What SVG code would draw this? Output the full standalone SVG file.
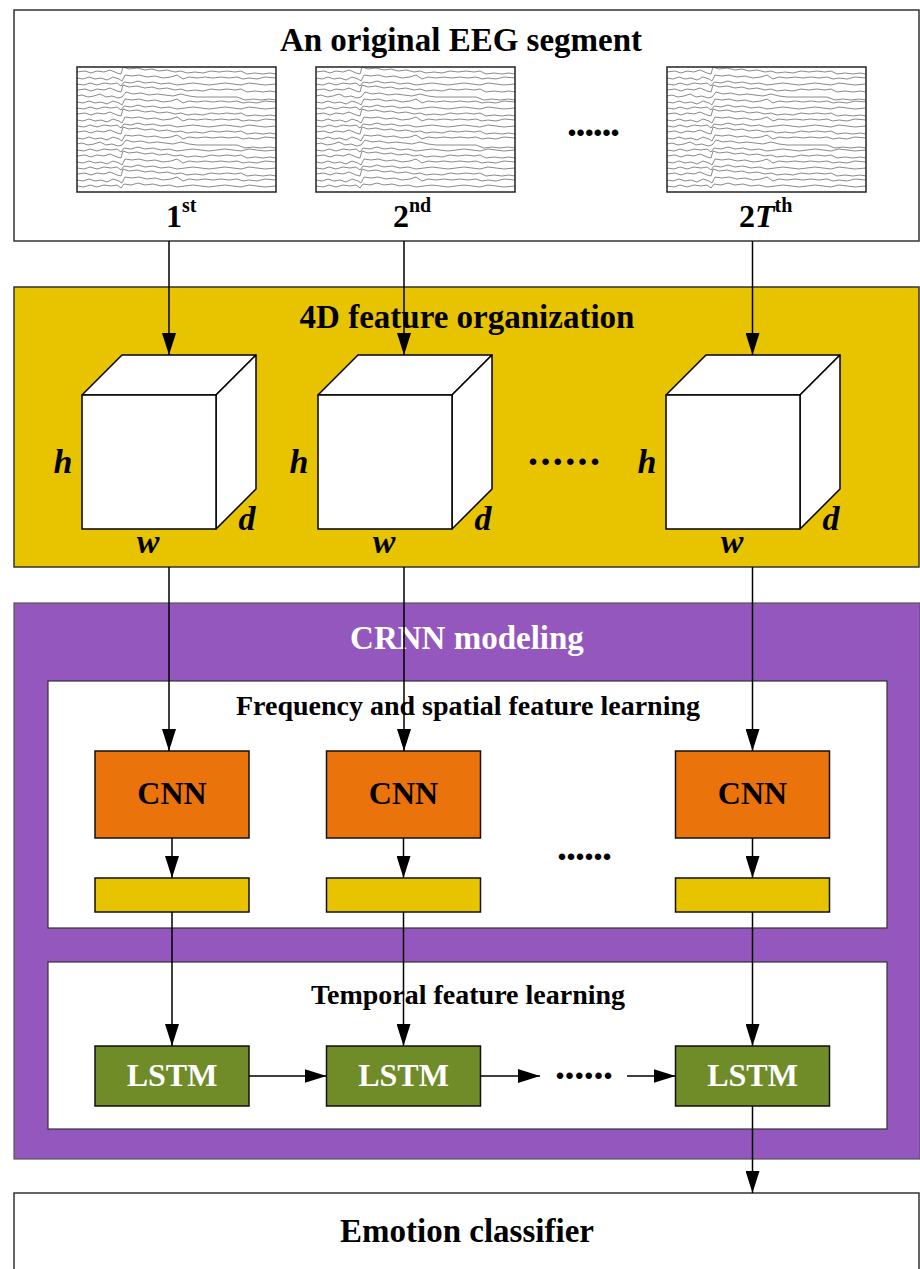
<svg xmlns="http://www.w3.org/2000/svg" xmlns:xlink="http://www.w3.org/1999/xlink" width="920" height="1269" viewBox="0 0 920 1269">
<style>
text{font-family:"Liberation Serif","Times New Roman",serif;font-weight:bold;}
.title{font-size:33px;text-anchor:middle;fill:#000;}
.sub{font-size:28px;text-anchor:middle;fill:#000;}
.frame{stroke:#333;stroke-width:1.5;}
.box{stroke:#111;stroke-width:1.5;}
.yellow{fill:#E8C300;}
.purple{fill:#9457BD;}
.orange{fill:#EB730C;}
.green{fill:#6F8C29;}
.white{fill:#fff;}
.lbl{font-size:32px;text-anchor:middle;}
.var{font-size:34px;font-style:italic;text-anchor:middle;}
.dots{font-size:40px;}
.trace{fill:none;stroke:#8a8a8a;stroke-width:1;}
.conn{stroke:#000;stroke-width:1.5;fill:none;marker-end:url(#arr);}
.cube{fill:#fff;stroke:#000;stroke-width:1.5;stroke-linejoin:round;}
</style>
<defs>
<marker id="arr" markerUnits="userSpaceOnUse" markerWidth="22" markerHeight="14" refX="22" refY="7" orient="auto">
<path d="M0,0 L22,7 L0,14 z" fill="#000"/>
</marker>
<path id="tA" class="trace" d="M0 0 L8 -1 L14 1 L20 -1 L27 0 L33 -2 L40 1 L44 2 L46 -5 L52 -3 L60 -4 L68 -2 L75 -3 L82 -1 L90 -2 L98 0 L104 -1 L110 1 L118 0 L126 1 L134 -1 L142 0 L150 -1 L158 0 L164 -1 L170 2 L178 1 L186 2 L193 1 L199 2"/>
<path id="tB" class="trace" d="M0 0 L6 1 L12 -1 L18 1 L24 0 L30 2 L36 -1 L42 1 L45 3 L48 -3 L55 -2 L62 -3 L70 -1 L78 -2 L86 0 L94 -1 L100 -3 L106 1 L112 -1 L120 0 L128 -1 L136 0 L144 -1 L152 0 L160 -1 L166 1 L172 0 L180 1 L188 -1 L199 0"/>
<path id="tC" class="trace" d="M0 0 L5 -1 L11 1 L17 0 L23 -2 L29 1 L35 0 L41 2 L45 1 L49 -4 L56 -2 L64 -3 L72 -1 L80 -2 L88 -1 L96 0 L104 -2 L112 0 L120 1 L130 1 L140 1 L150 1 L160 1 L168 4 L176 3 L184 4 L192 3 L199 4"/>
<path id="tD" class="trace" d="M0 0 L7 1 L13 -1 L20 1 L27 -1 L34 0 L40 -1 L44 2 L47 -2 L54 -1 L61 -3 L68 -1 L76 -2 L84 0 L92 -1 L100 1 L108 0 L116 -1 L124 0 L132 1 L140 0 L148 -1 L156 0 L164 1 L172 -1 L180 0 L188 1 L199 0"/>
<g id="eeg">
<rect x="0" y="0" width="199" height="125" fill="#fff"/>
<use xlink:href="#tA" x="0" y="5"/>
<use xlink:href="#tB" x="0" y="11"/>
<use xlink:href="#tD" x="0" y="17"/>
<use xlink:href="#tA" x="0" y="23"/>
<use xlink:href="#tC" x="0" y="29"/>
<use xlink:href="#tB" x="0" y="35"/>
<use xlink:href="#tD" x="0" y="41"/>
<use xlink:href="#tA" x="0" y="47"/>
<use xlink:href="#tB" x="0" y="53"/>
<use xlink:href="#tD" x="0" y="59"/>
<use xlink:href="#tA" x="0" y="65"/>
<use xlink:href="#tB" x="0" y="71"/>
<use xlink:href="#tC" x="0" y="77"/>
<use xlink:href="#tD" x="0" y="83"/>
<use xlink:href="#tA" x="0" y="89"/>
<use xlink:href="#tB" x="0" y="95"/>
<use xlink:href="#tD" x="0" y="101"/>
<use xlink:href="#tA" x="0" y="107"/>
<use xlink:href="#tB" x="0" y="113"/>
<use xlink:href="#tD" x="0" y="119"/>
<rect x="0" y="0" width="199" height="125" fill="none" stroke="#222" stroke-width="1.5"/>
</g>
<g id="cubeShape">
<polygon class="cube" points="0,0 40,-40 174,-40 134,0"/>
<polygon class="cube" points="134,0 174,-40 174,94 134,134"/>
<rect class="cube" x="0" y="0" width="134" height="134"/>
<text class="var" x="-19" y="78">h</text>
<text class="var" x="66" y="158">w</text>
<text class="var" x="165" y="135">d</text>
</g>
</defs>

<!-- Section containers -->
<g id="eeg-section">
<rect class="frame white" x="14" y="10" width="905" height="231"/>
<text class="title" x="461" y="51">An original EEG segment</text>
</g>
<g id="feature-section">
<rect class="frame yellow" x="14" y="287" width="905" height="280"/>
<text class="title" x="467" y="328">4D feature organization</text>
</g>
<g id="crnn-section">
<rect class="purple" x="14" y="603" width="906" height="556" stroke="#555" stroke-width="1.2"/>
<text class="title" x="467" y="649" fill="#fff" style="fill:#fff">CRNN modeling</text>
</g>
<g id="cnn-section">
<rect class="white" x="48" y="681" width="839" height="247" stroke="#333" stroke-width="1.2"/>
<text class="sub" x="468" y="715">Frequency and spatial feature learning</text>
</g>
<g id="lstm-section">
<rect class="white" x="48" y="962" width="839" height="167" stroke="#333" stroke-width="1.2"/>
<text class="sub" x="468" y="1004">Temporal feature learning</text>
</g>
<g id="classifier">
<rect class="frame white" x="14" y="1193" width="905" height="90"/>
<text class="title" x="467" y="1242">Emotion classifier</text>
</g>

<!-- EEG segments -->
<g id="eeg1">
<use xlink:href="#eeg" x="77" y="67"/>
<text x="166" y="227" font-size="32">1<tspan font-size="20" dy="-15">st</tspan></text>
</g>
<g id="eeg2">
<use xlink:href="#eeg" x="316" y="67"/>
<text x="393" y="227" font-size="32">2<tspan font-size="20" dy="-15">nd</tspan></text>
</g>
<g id="eeg3">
<use xlink:href="#eeg" x="667" y="67"/>
<text x="739" y="227" font-size="32">2<tspan font-style="italic">T</tspan><tspan font-size="20" dy="-15">th</tspan></text>
</g>
<g id="dots-eeg"><text class="dots" x="567" y="136" textLength="53">......</text></g>

<!-- Cubes -->
<g id="cube1"><use xlink:href="#cubeShape" x="82" y="395"/></g>
<g id="cube2"><use xlink:href="#cubeShape" x="318" y="395"/></g>
<g id="cube3"><use xlink:href="#cubeShape" x="666" y="395"/></g>
<g id="dots-cube"><text class="dots" x="528" y="465" textLength="72">......</text></g>

<!-- CNNs -->
<g id="cnn1"><rect class="box orange" x="95" y="751" width="154" height="87"/><text class="lbl" x="172" y="804">CNN</text></g>
<g id="cnn2"><rect class="box orange" x="326.5" y="751" width="154" height="87"/><text class="lbl" x="403.5" y="804">CNN</text></g>
<g id="cnn3"><rect class="box orange" x="675.5" y="751" width="154" height="87"/><text class="lbl" x="752.5" y="804">CNN</text></g>
<g id="dots-cnn"><text class="dots" x="557" y="860" textLength="55">......</text></g>

<!-- Feature vectors -->
<g id="vec1"><rect class="box yellow" x="95" y="878" width="154" height="34"/></g>
<g id="vec2"><rect class="box yellow" x="326.5" y="878" width="154" height="34"/></g>
<g id="vec3"><rect class="box yellow" x="675.5" y="878" width="154" height="34"/></g>

<!-- LSTMs -->
<g id="lstm1"><rect class="box green" x="95" y="1046" width="154" height="60"/><text class="lbl" x="172" y="1086" fill="#fff">LSTM</text></g>
<g id="lstm2"><rect class="box green" x="326.5" y="1046" width="154" height="60"/><text class="lbl" x="403.5" y="1086" fill="#fff">LSTM</text></g>
<g id="lstm3"><rect class="box green" x="675.5" y="1046" width="154" height="60"/><text class="lbl" x="752.5" y="1086" fill="#fff">LSTM</text></g>
<g id="dots-lstm"><text class="dots" x="555" y="1079" textLength="58">......</text></g>

<!-- Connectors -->
<g id="connectors">
<line class="conn" x1="169" y1="241" x2="169" y2="355"/>
<line class="conn" x1="404" y1="241" x2="404" y2="355"/>
<line class="conn" x1="752.5" y1="241" x2="752.5" y2="355"/>
<line class="conn" x1="169" y1="567" x2="169" y2="751"/>
<line class="conn" x1="404" y1="567" x2="404" y2="751"/>
<line class="conn" x1="752.5" y1="567" x2="752.5" y2="751"/>
<line class="conn" x1="172" y1="838" x2="172" y2="878"/>
<line class="conn" x1="403.5" y1="838" x2="403.5" y2="878"/>
<line class="conn" x1="752.5" y1="838" x2="752.5" y2="878"/>
<line class="conn" x1="172" y1="912" x2="172" y2="1046"/>
<line class="conn" x1="403.5" y1="912" x2="403.5" y2="1046"/>
<line class="conn" x1="752.5" y1="912" x2="752.5" y2="1046"/>
<line class="conn" x1="249" y1="1076" x2="326.5" y2="1076"/>
<line class="conn" x1="480.5" y1="1076" x2="540" y2="1076"/>
<line class="conn" x1="627" y1="1076" x2="675.5" y2="1076"/>
<line class="conn" x1="752.5" y1="1106" x2="752.5" y2="1193"/>
</g>
</svg>
